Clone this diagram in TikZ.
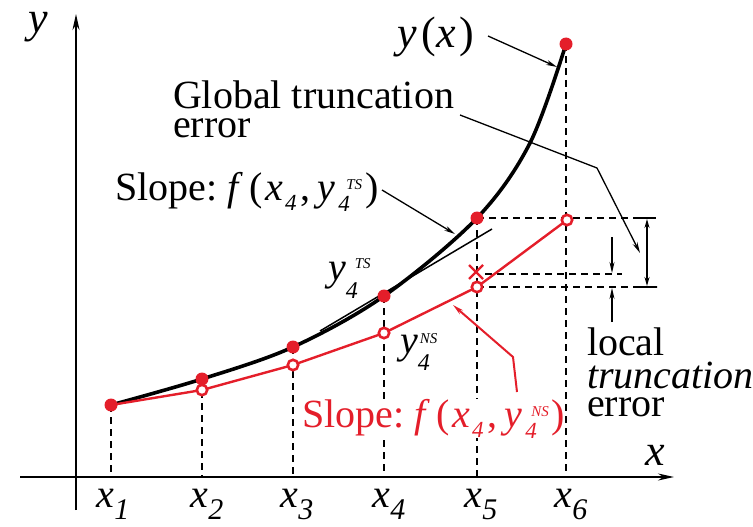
\documentclass[tikz,border=0pt]{standalone}
\usepackage{fontspec}
\setmainfont{Liberation Serif}
\usetikzlibrary{arrows.meta,calc}
\definecolor{myred}{RGB}{228,30,42}
% lowered subscript: #1 = drop, #2 = size, #3 = text
\newcommand\lo[3]{\raisebox{-#1}{\fontsize{#2}{#2}\selectfont\itshape #3}}
% raised superscript
\newcommand\hi[2]{\raisebox{#1}{\fontsize{15}{15}\selectfont\itshape #2}}
\tikzset{
  lbl/.style={inner sep=0pt, outer sep=0pt, font=\fontsize{40}{32}\selectfont},
  axis/.style={line width=1.8pt, -{Stealth[length=16pt,width=7pt]}},
  guide/.style={line width=1.5pt, dash pattern=on 7pt off 5pt},
  pointer/.style={line width=1.3pt, -{Stealth[length=11pt,width=5pt]}},
  exact/.style={line width=3.6pt, line cap=round},
  numer/.style={myred, line width=2.4pt},
  dotE/.style={fill=myred, draw=none},
  dotN/.style={draw=myred, line width=2.6pt, fill=white},
}
\begin{document}
\begin{tikzpicture}[x=1pt, y=-1pt]
\useasboundingbox (0,0) rectangle (753,527);

% coordinates
\coordinate (O1) at (76,510);
\coordinate (Ytip) at (76,14);
\coordinate (Xs) at (20,477);
\coordinate (Xtip) at (674,477);
\coordinate (E1) at (111,405);
\coordinate (E2) at (202,379);
\coordinate (E3) at (293,347);
\coordinate (E4) at (384,296);
\coordinate (E5) at (477,218);
\coordinate (E6) at (566,44);
\coordinate (N2) at (202,390);
\coordinate (N3) at (293,365);
\coordinate (N4) at (384,333);
\coordinate (N5) at (477,287);
\coordinate (N6) at (567,220);
\coordinate (C5) at (476,272);
\foreach \i/\xx in {1/111,2/202,3/293,4/384,5/477,6/566}
  \coordinate (T\i) at (\xx,477);

% axes
\draw[axis] (O1) -- (Ytip);
\draw[axis] (Xs) -- (Xtip);

% vertical guides
\foreach \i in {1,...,6} \draw[guide] (E\i) -- (T\i);

% horizontal guides
\coordinate (H1e) at (655,218);
\coordinate (H2s) at (485,274);
\coordinate (H2e) at (622,274);
\coordinate (H3e) at (657,287);
\draw[guide] (E5) -- (H1e);
\draw[guide] (H2s) -- (H2e);
\draw[guide] (N5) -- (H3e);

% global error bar
\coordinate (G1) at (647,219);
\coordinate (G2) at (647,286);
\draw[line width=1.5pt, {Stealth[length=9pt,width=5pt]}-{Stealth[length=9pt,width=5pt]}] (G1) -- (G2);
\draw[line width=1.5pt] (639,218) -- (656,218) (639,287) -- (657,287);

% local error arrows
\coordinate (L1s) at (612,237);
\coordinate (L1e) at (612,273);
\coordinate (L2s) at (612,322);
\coordinate (L2e) at (612,288);
\draw[pointer] (L1s) -- (L1e);
\draw[pointer] (L2s) -- (L2e);

% tangent line
\coordinate (Ta) at (320,331);
\coordinate (Tb) at (492,229);
\draw[line width=1.5pt] (Ta) -- (Tb);

% exact solution curve
\draw[exact] plot[smooth, tension=0.55] coordinates {(111,405) (202,379) (293,347) (384,296) (477,218) (530,143) (566,44)};

% numerical solution
\draw[numer] (E1) -- (N2) -- (N3) -- (N4) -- (N5) -- (N6);

% markers
\foreach \i in {1,...,6} \fill[dotE] (E\i) circle (6.5pt);
\foreach \i in {2,...,6} \draw[dotN] (N\i) circle (5.2pt);
\draw[myred, line width=2.4pt] ($(C5)+(-7,-7)$) -- ($(C5)+(7,7)$) ($(C5)+(-7,7)$) -- ($(C5)+(7,-7)$);

% labels
\node[lbl, font=\fontsize{44}{44}\selectfont, anchor=base west] (ylab) at (28,33) {\textit{y}};
\node[lbl, font=\fontsize{44}{44}\selectfont, anchor=base west] (xlab) at (645,465) {\textit{x}};
\foreach \i/\xx in {1/113,2/207,3/297,4/389,5/481,6/571}
  \node[lbl, anchor=base] (xl\i) at (\xx,507) {\textit{x}\lo{12pt}{30}{\i}};

\node[lbl, font=\fontsize{44}{44}\selectfont, anchor=base west] (yx) at (397,48) {\textit{y}\hspace{5pt}(\textit{x}\hspace{4pt})};

\node[lbl, align=left, anchor=base west, font=\fontsize{40}{29}\selectfont] (glob) at (173,137) {Global truncation\\error};

\node[lbl, anchor=base west] (slTS) at (115,200)
  {Slope:\hspace{10pt}\textit{f}\hspace{7pt}(\hspace{2pt}\textit{x}\hspace{2pt}\lo{10pt}{23}{4}\hspace{4pt},\hspace{7pt}\textit{y}\hspace{3pt}\rlap{\lo{11pt}{23}{4}}\hspace{8pt}\hi{11pt}{TS}\hspace{3pt})};
\node[lbl, anchor=base west, text=myred, fill=white] (slNS) at (302,427)
  {Slope:\hspace{10pt}\textit{f}\hspace{7pt}(\hspace{2pt}\textit{x}\hspace{2pt}\lo{10pt}{23}{4}\hspace{4pt},\hspace{7pt}\textit{y}\hspace{3pt}\rlap{\lo{11pt}{23}{4}}\hspace{6pt}\hi{11pt}{NS}\hspace{3pt})};

\node[lbl, anchor=base west] (yTS) at (328,280) {\textit{y}\rlap{\lo{18pt}{24}{4}}\hspace{9pt}\hi{12pt}{TS}};
\node[lbl, anchor=base west] (yNS) at (400,353) {\textit{y}\rlap{\lo{17pt}{24}{4}}\hspace{2pt}\hi{10pt}{NS}};

\node[lbl, align=left, anchor=base west, font=\fontsize{40}{31}\selectfont] (loc) at (587,416) {local\\[2pt]\textit{truncation}\\[-3pt]error};

% pointer arrows
\coordinate (Pyx1) at (488,36);
\coordinate (Pyx2) at (557,67);
\draw[pointer] (Pyx1) -- (Pyx2);
\coordinate (Pg1) at (460,115);
\coordinate (Pg2) at (597,168);
\coordinate (Pg3) at (640,253);
\draw[pointer] (Pg1) -- (Pg2) -- (Pg3);
\coordinate (Ps1) at (382,190);
\coordinate (Ps2) at (455,234);
\draw[pointer] (Ps1) -- (Ps2);
\coordinate (Pr1) at (517,392);
\coordinate (Pr2) at (513,357);
\coordinate (Pr3) at (453,305);
\draw[pointer, myred, line width=2pt] (Pr1) -- (Pr2) -- (Pr3);
\end{tikzpicture}
\end{document}
